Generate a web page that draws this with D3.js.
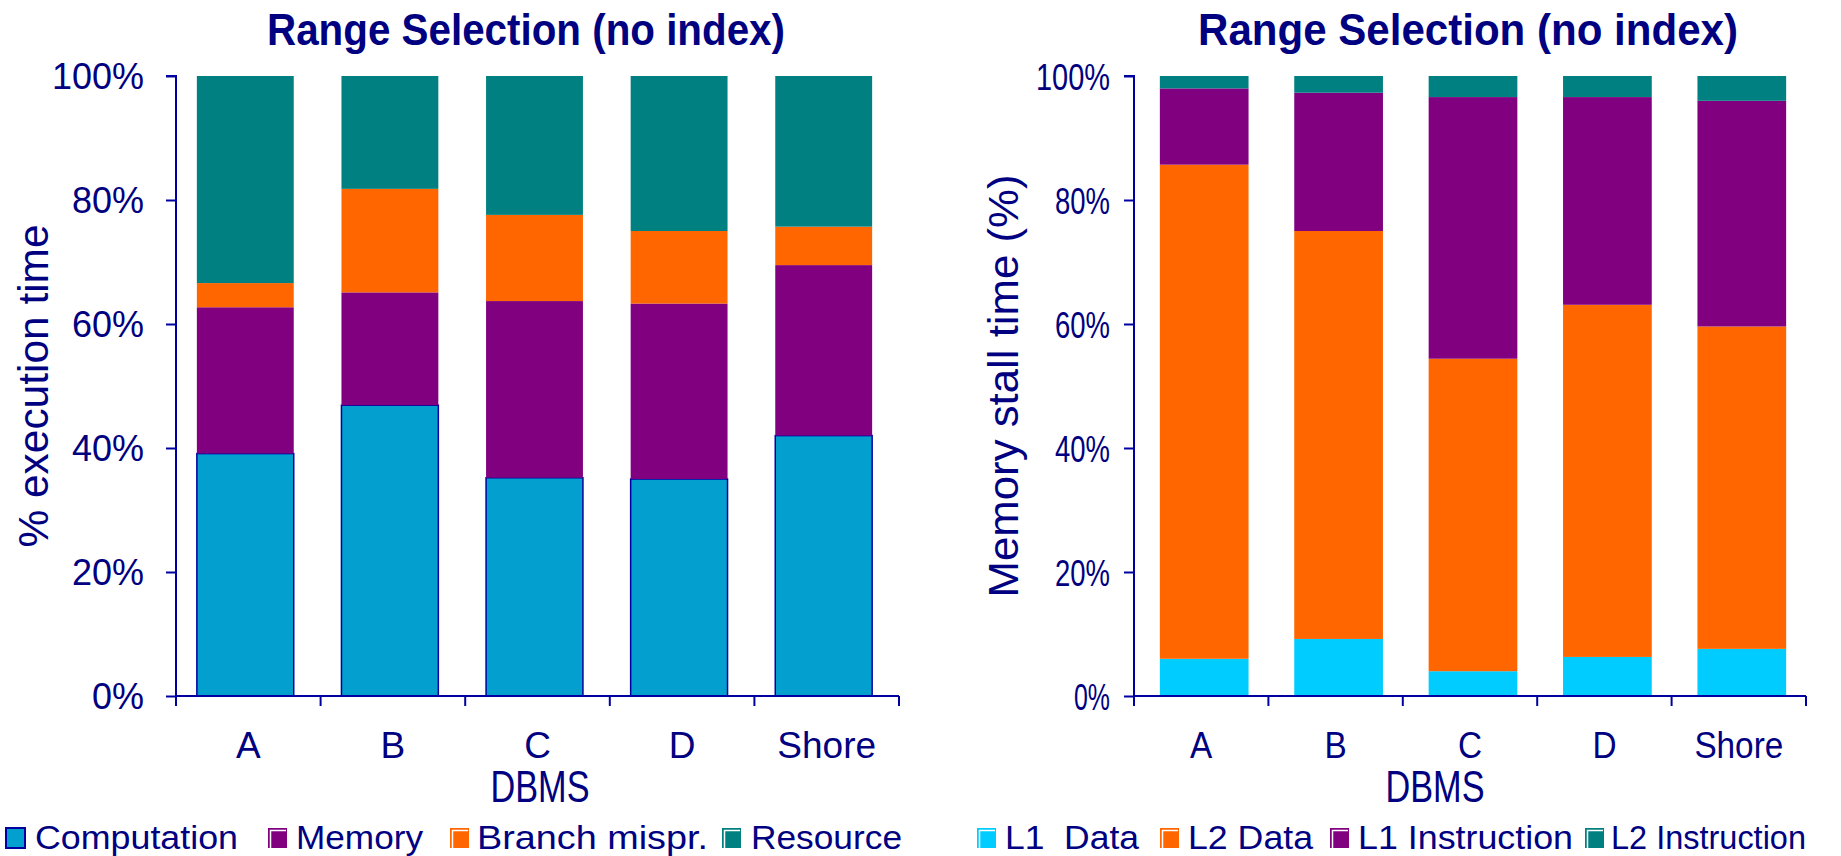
<!DOCTYPE html>
<html><head><meta charset="utf-8">
<script src="https://cdn.jsdelivr.net/npm/d3@7"></script>
<style>body{margin:0;background:#fff}svg{display:block}text{font-family:"Liberation Sans",Arial,sans-serif;fill:#000080;white-space:pre}</style>
</head><body><svg id="c" width="1841" height="856"></svg>
<script>
const categories = ["A","B","C","D","Shore"];
const yTicks = [0,20,40,60,80,100];

const execSeries = ["Computation","Memory","Branch mispr.","Resource"];
const execComputation = [39.1, 46.9, 35.2, 35.0, 42.0];
const execMemory      = [23.6, 18.2, 28.5, 28.3, 27.5];
const execBranch      = [3.9, 16.7, 13.9, 11.7, 6.2];
const execResource    = [33.4, 18.2, 22.4, 25.0, 24.3];

const stallSeries = ["L1  Data","L2 Data","L1 Instruction","L2 Instruction"];
const stallL1Data  = [6.0, 9.2, 4.0, 6.3, 7.6];
const stallL2Data  = [79.7, 65.8, 50.4, 56.8, 52.0];
const stallL1Instr = [12.3, 22.3, 42.2, 33.5, 36.4];
const stallL2Instr = [2.0, 2.7, 3.4, 3.4, 4.0];

const AXIS = "#0000a0", TXT = "#000080";
const svg = d3.select("#c");

function panel(cfg){
  const g = svg.append("g");
  const x = d3.scaleBand().domain(categories).range([cfg.x0, cfg.x1]).paddingInner(0).paddingOuter(0);
  const y = d3.scaleLinear().domain([0,100]).range([cfg.yb, cfg.yt]);
  const rows = categories.map((c,i)=>{const o={cat:c}; cfg.series.forEach((s,k)=>o[s]=cfg.values[k][i]); return o;});
  const stack = d3.stack().keys(cfg.series)(rows);
  const bw = x.bandwidth()*cfg.barFrac;
  stack.forEach((layer,k)=>{
    g.selectAll(null).data(layer).enter().append("rect")
      .attr("x", d=>x(d.data.cat)+(x.bandwidth()-bw)/2 + cfg.barShift)
      .attr("width", bw)
      .attr("y", d=>y(d[1]))
      .attr("height", d=>y(d[0])-y(d[1]))
      .attr("fill", cfg.colors[k])
      .attr("stroke", (k===0 && cfg.outlineFirst)?AXIS:"none")
      .attr("stroke-width", 1.5);
  });
  // y axis
  const ya = d3.axisLeft(y).tickValues(yTicks).tickFormat(d=>d+"%").tickSize(10).tickPadding(cfg.tickPad);
  const yg = g.append("g").attr("transform",`translate(${cfg.x0},0)`).call(ya);
  yg.select(".domain").attr("stroke",AXIS).attr("stroke-width",2).attr("d",`M-10,${cfg.yt}H0V${cfg.yb}`);
  yg.selectAll(".tick line").attr("stroke",AXIS).attr("stroke-width",2);
  yg.selectAll(".tick text").attr("fill",TXT).style("font-size",cfg.tickFont+"px")
    .attr("dy","0.36em")
    .each(function(){ if(cfg.tickLen) d3.select(this).attr("textLength",cfg.tickLen(this.textContent)).attr("lengthAdjust","spacingAndGlyphs"); });
  // x axis
  const xa = d3.axisBottom(x).tickSize(0).tickPadding(0);
  const xg = g.append("g").attr("transform",`translate(0,${cfg.yb})`).call(xa);
  xg.select(".domain").attr("stroke",AXIS).attr("stroke-width",2).attr("d",`M${cfg.x0},0H${cfg.x1}`);
  xg.selectAll(".tick line").remove();
  xg.selectAll(".tick text").attr("fill",TXT).style("font-size",cfg.catFont+"px")
    .attr("y", cfg.catBase).attr("dy",0)
    .each(function(){ if(cfg.catScale) d3.select(this).attr("textLength",this.getComputedTextLength()*cfg.catScale).attr("lengthAdjust","spacingAndGlyphs"); });
  const bounds = categories.map(c=>x(c)).concat([cfg.x1]);
  xg.selectAll(".sep").data(bounds).enter().append("line")
    .attr("x1",d=>d).attr("x2",d=>d).attr("y1",0).attr("y2",10)
    .attr("stroke",AXIS).attr("stroke-width",2);
  // titles
  g.append("text").attr("x",cfg.titleX).attr("y",45).attr("text-anchor","middle")
    .style("font-size","44px").style("font-weight","bold")
    .attr("textLength",cfg.titleLen).attr("lengthAdjust","spacingAndGlyphs")
    .text("Range Selection (no index)");
  g.append("text").attr("transform",`translate(${cfg.ytX},${(cfg.yt+cfg.yb)/2}) rotate(-90)`)
    .attr("text-anchor","middle").style("font-size",cfg.ytFont+"px")
    .attr("textLength",cfg.ytLen).attr("lengthAdjust","spacingAndGlyphs")
    .text(cfg.yTitle);
  g.append("text").attr("x",cfg.xtX).attr("y",802).attr("text-anchor","middle")
    .style("font-size","44px").attr("textLength",99).attr("lengthAdjust","spacingAndGlyphs").text("DBMS");
  // legend
  const lg = g.append("g");
  cfg.series.forEach((s,k)=>{
    const sx = cfg.leg[k][0], sy = 828, sw = 19, sh = 20;
    const outlined = k===0 && cfg.outlineFirst;
    lg.append("rect").attr("x",sx).attr("y",sy).attr("width",sw).attr("height",sh)
      .attr("fill",cfg.colors[k]).attr("stroke",outlined?AXIS:"none").attr("stroke-width",2);
    if(!outlined){
      lg.append("path").attr("d",`M${sx+2.5},${sy+sh}V${sy+2.5}H${sx+sw-1}`)
        .attr("fill","none").attr("stroke","#fff").attr("stroke-width",1.5);
    }
    lg.append("text").attr("x",cfg.leg[k][1]).attr("y",849).style("font-size","34px")
      .attr("textLength",cfg.leg[k][2]-cfg.leg[k][1]).attr("lengthAdjust","spacingAndGlyphs").text(s);
  });
}

panel({
  x0:176, x1:899, yt:76, yb:696, barFrac:0.67, barShift:-3,
  series:execSeries, values:[execComputation,execMemory,execBranch,execResource],
  colors:["#029fcf","#800080","#ff6600","#008080"], outlineFirst:true,
  tickPad:22, tickFont:36, tickLen:null, catFont:37, catBase:62, catScale:null,
  titleX:526, titleLen:518,
  ytX:48, ytFont:42, ytLen:323, yTitle:"% execution time",
  xtX:540,
  leg:[[6,35,238],[268,296,423],[450,477,708],[722,751,902]]
});
panel({
  x0:1134, x1:1806, yt:76, yb:696, barFrac:0.66, barShift:3,
  series:stallSeries, values:[stallL1Data,stallL2Data,stallL1Instr,stallL2Instr],
  colors:["#00ccff","#ff6600","#800080","#008080"], outlineFirst:false,
  tickPad:14, tickFont:37, tickLen:t=>t.length===4?74:(t.length===3?55:36), catFont:37, catBase:62, catScale:0.9,
  titleX:1468, titleLen:540,
  ytX:1018, ytFont:43, ytLen:423, yTitle:"Memory stall time (%)",
  xtX:1435,
  leg:[[977,1005,1139],[1160,1188,1313],[1330,1358,1573],[1585,1611,1806]]
});
</script></body></html>
